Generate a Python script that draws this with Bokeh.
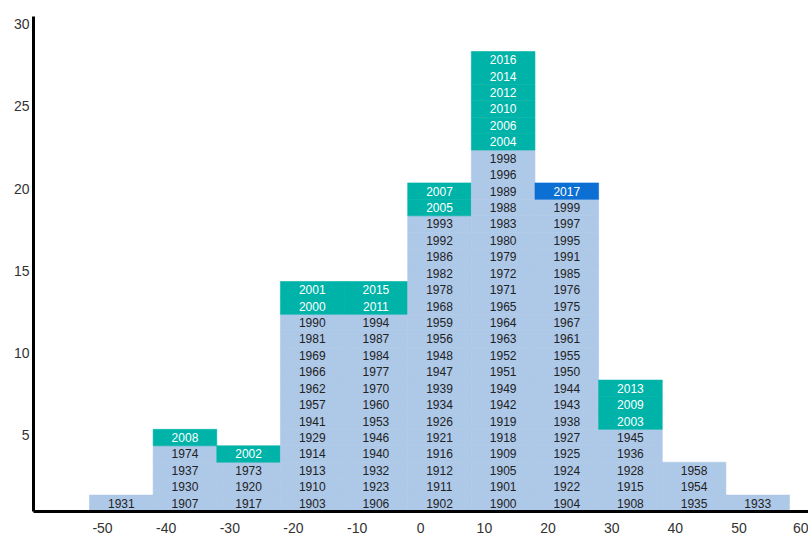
from bokeh.plotting import figure
from bokeh.models import ColumnDataSource, FixedTicker, Range1d, LinearAxis
from bokeh.core.properties import value
from bokeh.embed import file_html
from bokeh.resources import INLINE

# Bin starts (percent return) and the years falling in each bin, bottom to top
bins = [-50, -40, -30, -20, -10, 0, 10, 20, 30, 40, 50]
years_m50 = [1931]
years_m40 = [1907, 1930, 1937, 1974, 2008]
years_m30 = [1917, 1920, 1973, 2002]
years_m20 = [1903, 1910, 1913, 1914, 1929, 1941, 1957, 1962, 1966, 1969, 1981, 1990, 2000, 2001]
years_m10 = [1906, 1923, 1932, 1940, 1946, 1953, 1960, 1970, 1977, 1984, 1987, 1994, 2011, 2015]
years_0 = [1902, 1911, 1912, 1916, 1921, 1926, 1934, 1939, 1947, 1948, 1956, 1959, 1968, 1978,
           1982, 1986, 1992, 1993, 2005, 2007]
years_10 = [1900, 1901, 1905, 1909, 1918, 1919, 1942, 1949, 1951, 1952, 1963, 1964, 1965, 1971,
            1972, 1979, 1980, 1983, 1988, 1989, 1996, 1998, 2004, 2006, 2010, 2012, 2014, 2016]
years_20 = [1904, 1922, 1924, 1925, 1927, 1938, 1943, 1944, 1950, 1955, 1961, 1967, 1975, 1976,
            1985, 1991, 1995, 1997, 1999, 2017]
years_30 = [1908, 1915, 1928, 1936, 1945, 2003, 2009, 2013]
years_40 = [1935, 1954, 1958]
years_50 = [1933]
bin_years = [years_m50, years_m40, years_m30, years_m20, years_m10, years_0,
             years_10, years_20, years_30, years_40, years_50]

recent_start = 2000      # years from here on are highlighted
current_year = 2017      # the current year gets its own colour

x_ticks = [-50, -40, -30, -20, -10, 0, 10, 20, 30, 40, 50, 60]
x_tick_labels = ["-50", "-40", "-30", "-20", "-10", "0", "10", "20", "30", "40", "50", "60"]
y_ticks = [5, 10, 15, 20, 25, 30]
y_tick_labels = ["5", "10", "15", "20", "25", "30"]

LIGHT = "#aec8e8"
TEAL = "#00b3a8"
BLUE = "#0b6fd3"
BIN_W = 10
X_START, X_END = -58.8, 62.98
Y_START, Y_END = 0, 30.13
# tick labels sit just right of each bin start / hang just below each y tick
X_LABEL_SHIFT = 2.05
Y_LABEL_SHIFT = 0.34

left, right, bottom, top, xs, ys, labels, fills, tcolors = [], [], [], [], [], [], [], [], []
for b, yrs in zip(bins, bin_years):
    for i, yr in enumerate(yrs):
        left.append(b)
        right.append(b + BIN_W)
        bottom.append(i)
        top.append(i + 1)
        xs.append(b + BIN_W / 2)
        ys.append(i + 0.5)
        labels.append(str(yr))
        if yr == current_year:
            fills.append(BLUE)
            tcolors.append("#ffffff")
        elif yr >= recent_start:
            fills.append(TEAL)
            tcolors.append("#ffffff")
        else:
            fills.append(LIGHT)
            tcolors.append("#222222")

src = ColumnDataSource(dict(left=left, right=right, bottom=bottom, top=top,
                            x=xs, y=ys, label=labels, fill=fills, tcolor=tcolors))

p = figure(width=808, height=539, output_backend="svg", toolbar_location=None,
           x_range=Range1d(X_START, X_END), y_range=Range1d(Y_START, Y_END),
           x_axis_location=None, y_axis_location=None,
           min_border_left=33, min_border_right=0, min_border_top=16, min_border_bottom=28)
p.outline_line_color = None
p.grid.visible = False
p.background_fill_color = "white"
p.border_fill_color = "white"

p.extra_x_ranges = {"xlabels": Range1d(X_START - X_LABEL_SHIFT, X_END - X_LABEL_SHIFT)}
p.extra_y_ranges = {"ylabels": Range1d(Y_START + Y_LABEL_SHIFT, Y_END + Y_LABEL_SHIFT)}

p.quad(left="left", right="right", bottom="bottom", top="top", source=src,
       fill_color="fill", line_color="fill", line_width=0.6)
p.text(x="x", y="y", text="label", source=src, text_align="center", text_baseline="middle",
       text_font=value("Liberation Sans"), text_font_size="12px", text_color="tcolor")

xaxis = LinearAxis(x_range_name="xlabels", ticker=FixedTicker(ticks=x_ticks),
                   major_label_overrides=dict(zip(x_ticks, x_tick_labels)))
yaxis = LinearAxis(y_range_name="ylabels", ticker=FixedTicker(ticks=y_ticks),
                   major_label_overrides=dict(zip(y_ticks, y_tick_labels)))
for ax in (xaxis, yaxis):
    ax.axis_line_width = 3
    ax.axis_line_color = "black"
    ax.major_tick_line_color = None
    ax.minor_tick_line_color = None
    ax.major_tick_out = 0
    ax.major_tick_in = 0
    ax.minor_tick_out = 0
    ax.minor_tick_in = 0
    ax.major_label_text_font = "Liberation Sans"
    ax.major_label_text_font_size = "14px"
    ax.major_label_text_color = "#333333"
xaxis.major_label_standoff = 11
yaxis.major_label_standoff = 4
p.add_layout(xaxis, "below")
p.add_layout(yaxis, "left")

open("out.html", "w").write(file_html(p, INLINE))
